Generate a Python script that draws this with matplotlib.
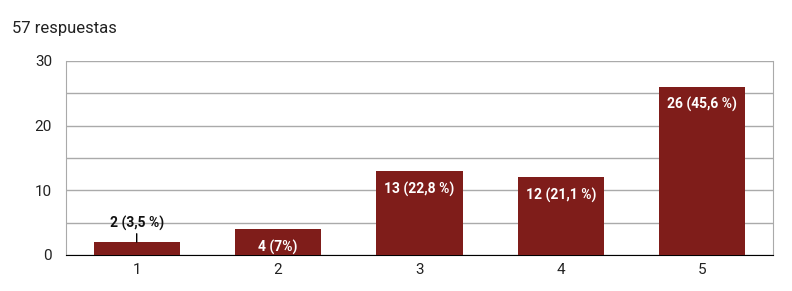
import matplotlib
matplotlib.use("Agg")
import matplotlib.pyplot as plt
from matplotlib import font_manager

categories = ["1", "2", "3", "4", "5"]
counts = [2, 4, 13, 12, 26]
labels = ["2 (3,5 %)", "4 (7%)", "13 (22,8 %)", "12 (21,1 %)", "26 (45,6 %)"]
title = "57 respuestas"

names = {f.name for f in font_manager.fontManager.ttflist}
fam = ["Liberation Sans Narrow", "DejaVu Sans"] if "Liberation Sans Narrow" in names else ["Roboto", "DejaVu Sans"]
plt.rcParams['font.family'] = fam

fig = plt.figure(figsize=(7.92, 2.91), dpi=100)
ax = fig.add_axes([66/792, 36/291, (773-66)/792, (255-61)/291])
bar_color = "#7f1d1a"
x = list(range(len(categories)))
ax.bar(x, counts, width=0.61, color=bar_color, zorder=3)
ax.set_xlim(-0.5, len(categories) - 0.5)
ax.set_ylim(0, 30)
ax.set_yticks([0, 10, 20, 30])
ax.set_yticks([5, 15, 25], minor=True)
ax.set_xticks(x)
ax.set_xticklabels(categories)
ax.grid(axis="y", which="both", color="#aaaaaa", linewidth=1, zorder=0)
ax.spines["top"].set_visible(False)
ax.spines["left"].set_color("#aaaaaa")
ax.spines["right"].set_color("#aaaaaa")
ax.spines["bottom"].set_color("black")
ax.tick_params(axis="both", which="both", length=0, labelsize=11, colors="#222222")
ax.tick_params(axis="y", pad=10)
ax.tick_params(axis="x", pad=6)

for xi, c, lab in zip(x, counts, labels):
    if c < 3:
        ax.annotate(lab, xy=(xi, c), xytext=(0, 8), textcoords="offset points",
                    ha="center", va="bottom", fontsize=10, fontweight="bold",
                    color="#111111",
                    arrowprops=dict(arrowstyle="-", color="black", lw=1, shrinkA=0, shrinkB=0))
    else:
        ax.annotate(lab, xy=(xi, c), xytext=(0, -13), textcoords="offset points",
                    ha="center", va="center", fontsize=10, fontweight="bold",
                    color="white", zorder=4)

fig.text(12/792, 1 - 28/291, title, fontsize=12, ha="left", va="center", color="#222222")
fig.savefig("out.png", dpi=100)
